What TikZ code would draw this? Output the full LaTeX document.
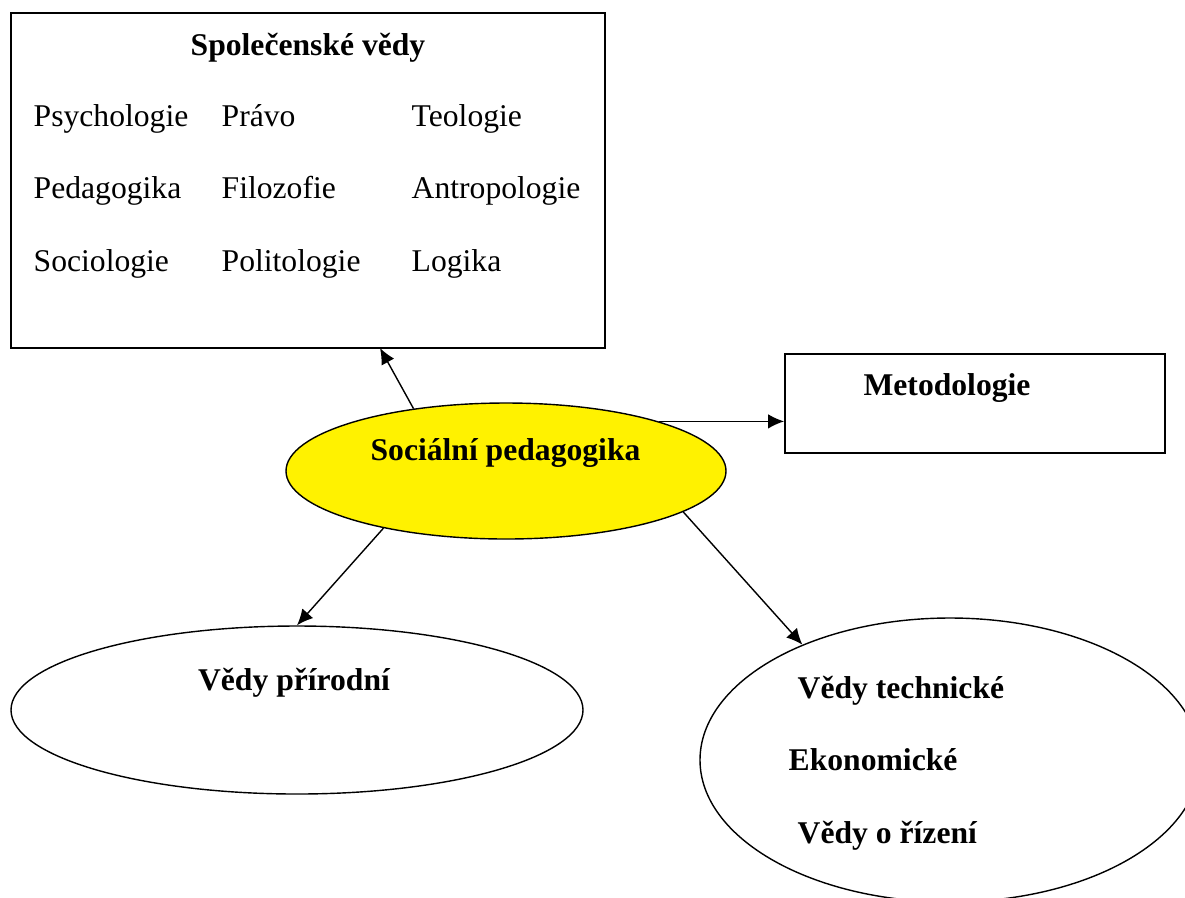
\documentclass[tikz,border=0pt]{standalone}
\usepackage{fontspec}
\setmainfont{Liberation Serif}
\usetikzlibrary{arrows.meta,shapes.geometric}
\begin{document}
\begin{tikzpicture}[>={Latex[length=3.2mm,width=2.9mm]}, line width=0.8pt]
    \tikzset{item/.style={anchor=base west, inner sep=0pt, font=\fontsize{18}{22}\selectfont},
             head/.style={anchor=base, inner sep=0pt, font=\fontsize{18}{22}\selectfont\bfseries},
             oval/.style={draw, ellipse, inner sep=0pt},
             frame/.style={draw, rectangle, inner sep=0pt, line width=1pt}}
    \useasboundingbox (0,0) rectangle (23.7,-17.94);
    \clip (0,0) rectangle (23.7,-17.94);
    \node[frame, minimum width=11.88cm, minimum height=6.7cm] (spol) at (6.16,-3.61) {};
    \node[frame, minimum width=7.6cm, minimum height=1.98cm] (meto) at (19.5,-8.07) {};
    \node[oval, fill=yellow, minimum width=8.8cm, minimum height=2.72cm] (sp) at (10.12,-9.42) {};
    \node[oval, minimum width=11.44cm, minimum height=3.36cm] (vp) at (5.94,-14.2) {};
    \node[oval, minimum width=10cm, minimum height=5.68cm] (vt) at (19.0,-15.2) {};
    \coordinate (spolin) at (7.6,-6.96);
    \node[head] (spoltitle) at (6.16,-1.10) {Společenské vědy};
    \node[item] (psych) at (0.66,-2.52) {Psychologie};
    \node[item] (pravo) at (4.42,-2.52) {Právo};
    \node[item] (teol) at (8.22,-2.52) {Teologie};
    \node[item] (ped) at (0.66,-3.96) {Pedagogika};
    \node[item] (filo) at (4.42,-3.96) {Filozofie};
    \node[item] (antro) at (8.22,-3.96) {Antropologie};
    \node[item] (socio) at (0.66,-5.42) {Sociologie};
    \node[item] (polit) at (4.42,-5.42) {Politologie};
    \node[item] (logika) at (8.22,-5.42) {Logika};
    \node[head] (metotitle) at (18.94,-7.9) {Metodologie};
    \node[head] (sptitle) at (10.11,-9.2) {Sociální pedagogika};
    \node[head] (vptitle) at (5.88,-13.8) {Vědy přírodní};
    \node[head, anchor=base west] (tech) at (15.94,-13.96) {Vědy technické};
    \node[head, anchor=base west] (ekon) at (15.76,-15.4) {Ekonomické};
    \node[head, anchor=base west] (rizeni) at (15.94,-16.86) {Vědy o řízení};
    \draw[->] (sp.146) -- (spolin);
    \draw[->] (sp.18) -- (sp.18 -| meto.west);
    \draw[->] (sp.205) -- (vp.north);
    \draw[->] (sp.347) -- (vt.142.5);
\end{tikzpicture}
\end{document}
